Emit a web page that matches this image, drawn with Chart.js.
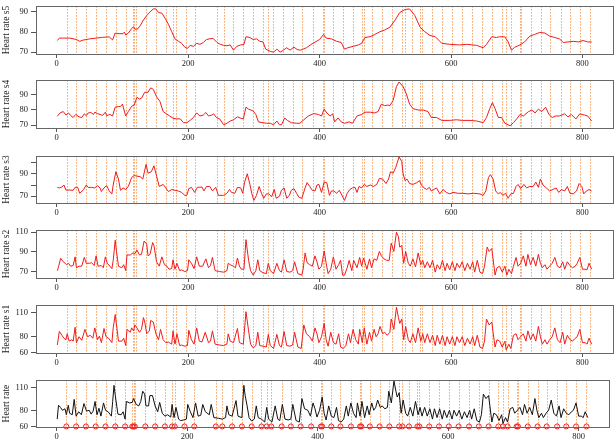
<!DOCTYPE html>
<html>
<head>
<meta charset="utf-8">
<script src="https://cdn.jsdelivr.net/npm/chart.js@4"></script>
<style>
  html, body { margin: 0; padding: 0; background: #fff; overflow: hidden; }
  #wrap { position: relative; width: 614px; height: 443px; }
  canvas { position: absolute; left: 0; }
</style>
</head>
<body>
<div id="wrap"></div>
<script>
// event times (vertical dotted lines + red circles)
const events = [15, 30, 45, 60, 75, 90, 105, 116, 118, 120, 136, 151, 166, 177, 181, 196, 211, 244, 254, 269,
    284, 299, 314, 322, 329, 345, 359, 374, 390, 405, 407, 421, 435, 451, 465, 467, 480, 495, 510, 525, 530,
    540, 553, 556, 571, 586, 601, 616, 632, 647, 662, 677, 684, 691, 705, 707, 722, 737, 751, 767, 781, 796, 812];

const xTicks = [0, 200, 400, 600, 800];

// [time, heart rate] pairs
const s5 = [[1,75.8],[4,77],[10,77],[20,77],[30,76.3],[35,75.4],[40,76],[50,76.6],[60,77],[70,77.4],[80,77.6],[85,76.1],
    [89,79.5],[95,79.2],[101,79.2],[103,80],[105,78.5],[109,79.5],[114,81.7],[117,82.7],[119,81.4],[123,81.5],[127,83.1],
    [132,86],[137,88.2],[142,90],[147,91.5],[151,91.5],[155,89.7],[160,89.4],[165,86.8],[170,83.9],[175,80.2],[180,76.6],
    [185,75.5],[190,74.4],[195,72.5],[199,71.9],[203,73.4],[208,72.9],[213,74.4],[218,73.9],[223,74.8],[228,76.3],[232,76.6],
    [238,76.9],[244,74.8],[249,73.9],[254,73.4],[259,73.2],[264,73.6],[269,71],[274,72.9],[280,73.6],[285,73.9],[288,77.7],
    [294,77.3],[299,76.3],[304,76.6],[309,75.4],[314,75.1],[318,71.5],[325,70.4],[330,70],[335,71.5],[340,70],[345,71],
    [350,72.2],[355,71],[361,72.5],[366,71.3],[371,71],[375,71.5],[380,72.2],[386,73.6],[390,74.4],[400,76.3],[406,78.8],
    [410,77],[418,76.6],[426,75.4],[433,74.8],[438,71.5],[443,72.2],[451,72.9],[459,73.6],[464,74.4],[469,77.3],[477,77.7],
    [484,78.8],[492,80.2],[499,81],[507,82.4],[515,86],[522,89.7],[530,91.2],[537,91.5],[545,88.2],[553,82.4],[560,80.2],
    [568,78.3],[576,77.7],[583,75.4],[586,74.4],[598,73.9],[613,73.6],[624,73.9],[639,73.4],[649,72.2],[654,73.9],[662,77.7],
    [669,77.3],[674,77.7],[682,77.6],[687,75.1],[692,71],[697,72.5],[705,73.6],[712,75.1],[720,78],[727,78.8],[735,79.8],
    [743,79.5],[750,78],[758,77.3],[765,76.6],[771,74.8],[778,75.1],[786,75.4],[794,75.1],[801,75.8],[808,75.1],[814,75.1]];

const s4 = [[1,75.8],[5,78],[10,78.9],[14,76.6],[18,78],[21,76.4],[25,75],[29,77],[34,75.4],[38,75],[42,77.4],[45,76.2],
    [48,78],[52,78.3],[56,77],[58,78.5],[62,77.6],[66,77],[70,76.4],[74,78.5],[76,76.2],[81,77],[85,76],[89,81.8],[94,82.2],
    [97,82.2],[100,83.8],[105,76],[109,78.9],[114,82.4],[118,83.2],[122,88.3],[126,87.1],[129,87.7],[134,91.6],[139,91.6],
    [143,94.5],[147,93.5],[152,88.6],[157,85.7],[162,78.9],[167,77.4],[172,76],[177,74.5],[182,74.1],[188,74.1],[193,71.6],
    [198,71.6],[203,73.1],[208,75],[213,78],[218,76],[223,76.6],[227,78.3],[231,76],[236,76.6],[239,77.4],[243,75],[248,74.1],
    [254,70.2],[259,71.2],[264,72.7],[269,73.5],[275,75.4],[279,74.7],[284,74.1],[288,81.8],[292,80.5],[299,79.3],[303,77],
    [307,72.1],[314,71.6],[319,71.2],[325,71.2],[330,70.2],[335,72.7],[339,70.2],[342,70.2],[347,74.7],[351,73.1],[357,71.6],
    [365,71.2],[370,71.2],[375,73.1],[383,76],[391,77.6],[398,77],[403,76],[407,80.5],[411,78],[416,76],[420,77.4],[423,72.1],
    [428,74.7],[433,72.1],[438,71.2],[445,72.1],[450,71.2],[457,76],[464,77],[469,78.5],[477,78.5],[484,78],[489,78.9],
    [494,83.8],[499,82.8],[504,83.2],[507,82.8],[512,86.3],[517,95.4],[521,98.3],[527,95.4],[532,90.6],[537,83.8],[542,80.9],
    [550,79.9],[558,79.9],[565,78.9],[570,75],[578,75],[586,73.1],[598,73.1],[608,73.5],[618,73.1],[629,73.1],[639,72.7],
    [649,71.6],[654,75],[659,80.9],[663,84.8],[667,80.9],[672,75],[677,75],[682,71.2],[690,69.6],[695,71.6],[700,74.1],
    [705,77],[710,76],[718,78.9],[723,79.9],[728,78],[733,80.5],[738,78.9],[744,81.8],[749,77],[754,75],[759,76],[765,76],
    [773,77.4],[778,75.4],[783,77],[790,74.1],[796,77.4],[803,76.6],[808,76],[814,72.7]];

const s3 = [[1,77.9],[4,77.4],[8,78.2],[11,80],[14,75.5],[20,75.5],[25,75.3],[28,77.9],[32,77.9],[35,72.6],[41,76],[45,80],
    [48,77.9],[53,77.9],[58,77.4],[62,79.5],[66,77.4],[68,74.2],[72,77.4],[76,79.5],[80,74.7],[84,72.1],[86,80],[90,91.8],
    [94,85.3],[97,75.3],[101,77.4],[105,76],[109,78.7],[114,86.6],[118,88.4],[122,87.9],[127,87.4],[131,85.3],[136,98.4],
    [139,90.5],[144,91.8],[148,97.1],[152,87.9],[156,78.7],[162,80.5],[166,77.4],[170,74.2],[175,76],[180,75.3],[185,74.7],
    [190,73.4],[195,70.8],[198,70.8],[201,76.8],[205,77.9],[210,73.4],[214,77.9],[221,78.2],[224,74.7],[228,78.7],[233,78.7],
    [237,74.7],[242,77.9],[246,70.8],[254,70.8],[259,72.6],[263,76],[266,73.4],[271,72.6],[275,77.9],[280,77.4],[283,72.6],
    [286,82.6],[290,90],[294,80.5],[297,72.1],[300,66.3],[304,70.8],[308,78.7],[312,72.1],[315,68.2],[319,72.1],[323,72.1],
    [327,69.5],[331,76],[334,68.2],[339,70],[342,75.3],[346,77.4],[350,68.2],[354,70.8],[357,75.3],[361,76.8],[365,72.6],
    [369,68.9],[373,68.2],[378,77.4],[381,82.1],[385,78.7],[389,75.3],[393,74.7],[396,80],[399,80.5],[403,73.4],[407,82.6],
    [411,82.1],[415,70.8],[418,74.7],[422,74.7],[426,72.6],[430,75.3],[433,72.1],[438,66.3],[442,72.6],[446,76],[450,77.4],
    [454,77.9],[457,73.4],[460,78.7],[464,77.4],[468,80.5],[472,78.7],[477,80],[482,78.7],[487,80.5],[491,85.8],[496,85.3],
    [501,81.3],[505,85.3],[508,91.8],[512,90.5],[516,95.8],[521,105],[525,101],[527,90.5],[530,83.9],[533,85.3],[537,81.3],
    [542,80.5],[548,82.1],[552,83.9],[555,80],[559,77.4],[563,76],[567,77.9],[570,74.7],[578,77.4],[583,72.1],[588,76],
    [593,73.4],[598,72.1],[603,73.4],[611,72.6],[618,72.6],[626,72.1],[634,72.6],[644,72.1],[649,70.8],[653,74.7],[657,86.6],
    [660,89.2],[664,85.3],[668,74.7],[672,72.1],[675,73.4],[679,70.8],[683,72.6],[687,68.2],[691,72.1],[695,72.6],[699,78.7],
    [702,80.5],[706,76.8],[711,80.5],[715,77.4],[720,78.7],[725,78.7],[729,82.6],[733,77.9],[736,85.3],[740,80],[745,77.4],
    [750,74.7],[755,76],[760,77.4],[764,73.4],[768,76],[773,74.7],[777,78.7],[781,72.6],[786,72.1],[791,74.7],[795,81.3],
    [799,78.7],[802,72.1],[806,74.7],[810,76],[814,74.7]];

const s2 = [[1,70.6],[3,75.2],[6,83.3],[10,79.7],[13,78.2],[15,76.7],[18,78.2],[21,75.2],[25,75.8],[28,84.8],[30,73.6],
    [34,75.2],[38,75.2],[42,84.2],[45,78.2],[50,78.2],[53,78.8],[57,75.8],[60,85.8],[63,75.2],[68,75.8],[71,73.6],[74,84.8],
    [77,78.2],[81,75.2],[84,72.7],[86,81.2],[89,101.8],[91,90.3],[94,75.2],[99,73.6],[102,76.7],[105,70.6],[107,86.7],
    [112,86.7],[116,88.8],[119,87.9],[122,91.8],[126,86.7],[129,87.3],[133,100.9],[137,97.9],[139,85.8],[142,87.3],[146,99.4],
    [148,96.4],[152,79.7],[156,75.2],[160,84.8],[164,76.7],[167,75.8],[171,72.1],[175,72.7],[177,81.8],[180,72.1],[183,78.2],
    [187,70.6],[190,71.5],[195,69.7],[199,70.6],[201,81.8],[205,78.2],[209,72.7],[213,84.8],[217,75.2],[222,75.2],[227,82.7],
    [231,73.6],[234,75.8],[237,84.2],[241,70.6],[248,69.7],[254,69.1],[259,70.6],[261,78.2],[264,76.7],[269,75.2],[272,73.6],
    [275,83.6],[278,75.2],[281,72.1],[285,72.1],[288,102.4],[292,81.2],[295,70.6],[299,66.1],[303,70.6],[306,81.8],[309,70.6],
    [314,68.5],[319,67.6],[322,78.2],[325,70.6],[330,67.6],[335,78.2],[339,70.6],[342,69.1],[346,81.8],[350,69.7],[355,69.1],
    [359,70.6],[362,79.7],[367,67.6],[373,66.1],[375,72.1],[378,88.8],[381,78.8],[385,76.7],[389,75.2],[393,85.8],[396,79.7],
    [399,72.1],[403,75.2],[407,90.9],[410,78.2],[413,67.6],[417,72.1],[421,84.8],[425,72.1],[429,76.7],[432,81.2],[435,66.1],
    [438,66.1],[442,73.6],[445,81.2],[449,70.6],[452,81.2],[457,73.6],[461,84.2],[464,75.2],[467,83.6],[472,72.1],[476,82.7],
    [479,73.6],[483,82.7],[487,81.2],[491,90.3],[494,85.8],[498,82.7],[502,81.2],[506,81.2],[509,98.8],[513,90.3],[517,110],
    [520,105.5],[522,94.8],[525,96.4],[528,78.2],[531,90.3],[535,78.2],[538,75.2],[542,82.7],[546,74.5],[550,88.8],[554,76.7],
    [557,81.2],[560,73.6],[564,79.7],[568,73.6],[572,81.2],[576,69.1],[579,76.7],[583,72.1],[587,81.2],[591,70.6],[594,78.2],
    [598,71.5],[602,79.7],[606,70.6],[609,78.2],[613,73.6],[617,79.7],[621,70.6],[625,78.2],[629,72.1],[633,79.7],[636,69.1],
    [640,81.2],[644,69.1],[648,67.6],[651,75.2],[655,94.8],[658,90.3],[662,93.3],[664,82.7],[667,66.1],[670,73.6],[674,75.2],
    [678,69.1],[682,75.2],[685,66.1],[688,72.1],[692,67.6],[695,75.2],[699,84.2],[702,75.2],[706,78.2],[710,85.8],[714,75.2],
    [717,87.3],[721,76.7],[725,84.2],[729,75.2],[733,87.3],[736,78.2],[739,73.6],[743,76.7],[746,72.1],[750,75.2],[754,78.2],
    [758,84.2],[762,75.2],[766,73.6],[770,79.7],[773,72.1],[777,79.7],[781,75.8],[785,73.6],[789,75.2],[792,78.2],[796,84.2],
    [800,72.1],[804,72.1],[807,71.5],[810,78.2],[814,72.1]];

const s1 = [[1,69.3],[4,86.5],[8,81.6],[11,77.9],[14,76],[16,83.5],[19,74.2],[23,76],[25,74.2],[28,91.7],[30,72.3],[34,79.8],
    [38,75.3],[41,83.5],[43,89.1],[47,79.8],[51,81.6],[55,77.9],[58,91],[62,76],[65,80.5],[68,72.3],[72,90.2],[75,79.8],
    [79,77.9],[84,72.3],[86,91],[89,107.8],[91,94.7],[94,74.2],[99,74.2],[102,77.9],[105,68.6],[107,89.1],[112,85.4],[114,91],
    [117,87.2],[119,94.7],[122,91],[126,85.4],[129,89.1],[132,104],[134,98.4],[137,83.5],[141,87.2],[143,100.3],[147,98.4],
    [151,83.5],[155,76],[158,89.1],[162,76],[166,72.3],[170,73.1],[175,70.4],[177,87.2],[180,70.4],[183,83.5],[187,68.6],
    [190,69.3],[195,67.8],[199,68.6],[201,88],[205,76],[209,70.4],[213,91],[217,74.2],[221,73.1],[226,85.4],[231,72.3],
    [234,74.2],[237,87.2],[241,70.4],[248,69.3],[254,68.6],[259,70.4],[261,83.5],[264,74.2],[269,72.3],[275,90.2],[278,72.3],
    [284,70.4],[288,111.5],[292,87.2],[295,70.4],[299,65.6],[303,68.6],[306,85.4],[309,68.6],[314,67.8],[319,66.7],[322,82.8],
    [325,68.6],[330,64.9],[335,82.8],[339,68.6],[342,66.7],[346,86.5],[350,68.6],[355,67.8],[359,69.3],[362,85.4],[367,66.7],
    [372,64.9],[374,79.8],[376,94.7],[380,83.5],[385,79.8],[389,74.2],[393,91],[396,83.5],[399,72.3],[403,79.8],[407,96.6],
    [410,76],[413,67.8],[417,85.4],[421,72.3],[425,70.4],[429,83.5],[432,66.7],[436,64.9],[440,68.6],[444,83.5],[447,72.3],
    [451,89.1],[455,76],[459,70.4],[461,89.1],[465,72.3],[468,91],[472,70.4],[476,85.4],[479,74.2],[483,89.1],[486,79.8],
    [489,83.5],[492,92.8],[496,83.5],[499,85.4],[503,81.6],[507,85.4],[509,102.2],[513,89.1],[517,117.1],[520,104],[522,96.6],
    [525,102.2],[528,76],[531,92.8],[535,76],[538,72.3],[542,83.5],[546,72.3],[550,91],[554,74.2],[557,83.5],[560,72.3],
    [564,83.5],[568,72.3],[572,81.6],[576,68.6],[579,81.6],[583,70.4],[587,81.6],[591,68.6],[594,79.8],[598,70.4],[602,79.8],
    [606,68.6],[609,79.8],[613,72.3],[617,79.8],[621,68.6],[625,77.9],[629,70.4],[633,79.8],[636,68.6],[640,81.6],[644,66.7],
    [648,64.9],[651,74.2],[654,102.2],[658,94.7],[662,98.4],[664,85.4],[667,66.7],[670,76],[674,74.2],[678,66.7],[682,74.2],
    [684,63],[688,70.4],[691,64.9],[695,81.6],[699,83.5],[702,76],[706,79.8],[710,83.5],[714,74.2],[717,87.2],[721,76],
    [725,83.5],[729,74.2],[733,92.8],[736,79.8],[739,70.4],[743,76],[746,70.4],[750,76],[754,79.8],[758,91],[762,76],
    [766,72.3],[770,85.4],[773,70.4],[777,81.6],[781,76],[785,74.2],[789,77.9],[792,79.8],[796,89.1],[800,72.3],[804,72.3],
    [807,70.4],[810,77.9],[814,70.4]];

const hr = [[1,69.4],[3,87.1],[6,84.4],[9,80.7],[13,82.6],[15,75],[18,87.1],[20,76.9],[24,75],[27,94.6],[30,73.2],[34,78.8],
    [38,75],[42,89.3],[46,79.5],[50,80.7],[53,75.8],[56,79.5],[59,92],[62,75],[65,83.3],[68,73.2],[72,90.1],[75,80.7],
    [79,78.8],[84,73.2],[86,92],[88,112.6],[90,99.5],[94,75.8],[99,75],[102,78.8],[105,69.4],[107,92],[112,90.1],[116,90.8],
    [118,95.7],[122,88.2],[126,86.3],[129,92],[132,105.1],[135,101.4],[137,86.3],[141,86.3],[143,99.5],[147,99.5],[151,86.3],
    [155,78.8],[158,90.8],[162,76.9],[166,73.2],[170,75],[175,72],[177,88.2],[180,71.3],[183,84.4],[187,69.4],[190,67.5],
    [195,68.3],[199,69.4],[201,88.2],[205,78.8],[209,71.3],[213,90.1],[217,73.2],[221,74.3],[224,88.2],[228,78.8],[234,75],
    [237,88.2],[241,71.3],[248,70.5],[254,69.4],[259,71.3],[261,86.3],[264,75],[269,73.2],[275,93.1],[278,73.2],[284,71.3],
    [287,112.6],[289,99.5],[292,86.3],[295,71.3],[299,66.8],[303,69.4],[306,86.3],[309,71.3],[314,69.4],[319,65.6],[322,84.4],
    [325,69.4],[330,65.6],[335,86.3],[339,69.4],[342,67.5],[346,88.2],[350,69.4],[355,68.3],[359,69.4],[362,88.2],[367,67.5],
    [372,65.6],[374,80.7],[376,95.7],[380,82.6],[385,80.7],[389,73.2],[393,90.1],[396,82.6],[399,72],[403,80.7],[407,97.6],
    [410,76.9],[413,68.3],[417,86.3],[421,73.2],[425,71.3],[429,84.4],[432,67.5],[436,65.6],[440,69.4],[444,86.3],[447,73.2],
    [451,90.1],[455,76.9],[459,71.3],[461,90.1],[465,73.2],[468,92],[472,71.3],[476,86.3],[479,75],[483,90.1],[486,80.7],
    [489,84.4],[492,93.8],[496,84.4],[499,86.3],[503,82.6],[507,84.4],[509,105.1],[513,90.1],[517,118.3],[520,105.1],[522,97.6],
    [525,103.2],[528,76.9],[531,93.8],[535,76.9],[538,73.2],[542,84.4],[546,73.2],[550,92],[554,75],[557,84.4],[560,73.2],
    [564,84.4],[568,73.2],[572,82.6],[576,69.4],[579,82.6],[583,71.3],[587,82.6],[591,69.4],[594,80.7],[598,71.3],[602,80.7],
    [606,69.4],[609,80.7],[613,73.2],[617,80.7],[621,69.4],[625,78.8],[629,71.3],[633,80.7],[636,69.4],[640,82.6],[644,67.5],
    [648,65.6],[651,75],[654,101.4],[658,95.7],[662,99.5],[664,86.3],[667,65.6],[670,76.9],[674,75],[678,67.5],[682,75],
    [684,63.8],[688,71.3],[691,65.6],[695,82.6],[699,84.4],[702,76.9],[706,80.7],[710,84.4],[714,75],[717,88.2],[721,76.9],
    [725,84.4],[729,75],[733,95.7],[736,80.7],[739,71.3],[743,76.9],[746,71.3],[750,76.9],[754,80.7],[758,93.8],[762,76.9],
    [766,73.2],[770,86.3],[773,71.3],[777,82.6],[781,76.9],[785,75],[789,78.8],[792,80.7],[796,90.1],[800,73.2],[804,73.2],
    [807,71.3],[810,78.8],[814,71.3]];

// panel setup: y tick values and which of them get a label
const panels = [
    { data: s5, title: "Heart rate s5", ticks: [70, 80, 90], labels: [70, 80, 90], min: 69.1, max: 92.9, top: 0, h: 54 },
    { data: s4, title: "Heart rate s4", ticks: [70, 80, 90], labels: [70, 80, 90], min: 68.1, max: 99.6, top: 74, h: 54 },
    { data: s3, title: "Heart rate s3", ticks: [70, 80, 90, 100], labels: [70, 90], min: 64, max: 105.7, top: 150, h: 53 },
    { data: s2, title: "Heart rate s2", ticks: [70, 80, 90, 100, 110], labels: [70, 90, 110], min: 63.1, max: 112.2, top: 224, h: 54 },
    { data: s1, title: "Heart rate s1", ticks: [60, 80, 110], labels: [60, 80, 110], min: 59.2, max: 119.8, top: 299, h: 54 },
    { data: hr, title: "Heart rate", ticks: [60, 80, 110], labels: [60, 80, 110], min: 59.3, max: 119.3, top: 374, h: 53, black: true }
];

const SERIF = "'Liberation Serif', 'DejaVu Serif', serif";
const PAD_TOP = 2, AXIS_H = 20;

const framePlugin = {
    id: "frame",
    beforeDatasetsDraw(chart) {
        const { ctx, chartArea: a, scales } = chart;
        ctx.save();
        ctx.strokeStyle = "rgba(250,140,60,0.8)";
        ctx.lineWidth = 1;
        ctx.setLineDash([1.5, 1.5]);
        events.forEach(e => {
            const x = Math.round(scales.x.getPixelForValue(e)) + 0.5;
            ctx.beginPath();
            ctx.moveTo(x, a.top);
            ctx.lineTo(x, a.bottom);
            ctx.stroke();
        });
        ctx.restore();
    },
    afterDraw(chart) {
        const { ctx, chartArea: a } = chart;
        ctx.save();
        ctx.strokeStyle = "#666";
        ctx.lineWidth = 1;
        ctx.strokeRect(Math.round(a.left) + 0.5, Math.round(a.top) + 0.5,
            Math.round(a.right - a.left), Math.round(a.bottom - a.top));
        ctx.restore();
    }
};

function drawPanel(p) {
    const canvas = document.createElement("canvas");
    const height = PAD_TOP + p.h + AXIS_H;
    canvas.width = 614;
    canvas.height = height;
    canvas.style.top = (p.top - PAD_TOP) + "px";
    document.getElementById("wrap").appendChild(canvas);

    const datasets = [{
        data: p.data.map(d => ({ x: d[0], y: d[1] })),
        borderColor: p.black ? "#111" : "#ee1c1c",
        borderWidth: 1,
        pointRadius: 0,
        tension: 0
    }];
    if (p.black) {
        datasets.push({
            type: "scatter",
            data: events.map(e => ({ x: e, y: 60 })),
            borderColor: "#ee1c1c",
            backgroundColor: "rgba(0,0,0,0)",
            borderWidth: 1,
            pointRadius: 2.5,
            clip: false
        });
    }

    new Chart(canvas.getContext("2d"), {
        type: "line",
        data: { datasets },
        options: {
            responsive: false,
            animation: false,
            devicePixelRatio: 1,
            layout: { padding: { top: PAD_TOP, right: 1, left: 0, bottom: 0 } },
            plugins: { legend: { display: false }, tooltip: { enabled: false } },
            scales: {
                x: {
                    type: "linear",
                    min: -31.5,
                    max: 846.5,
                    afterBuildTicks: s => { s.ticks = xTicks.map(v => ({ value: v })); },
                    afterFit: s => { s.height = AXIS_H; },
                    grid: { drawOnChartArea: false, tickLength: 4, tickColor: "#555" },
                    border: { display: false },
                    ticks: { color: "#222", font: { family: SERIF, size: 8.5 }, padding: 1, maxRotation: 0 }
                },
                y: {
                    min: p.min,
                    max: p.max,
                    afterBuildTicks: s => { s.ticks = p.ticks.map(v => ({ value: v })); },
                    afterFit: s => { s.width = 36; },
                    grid: { drawOnChartArea: false, tickLength: 5, tickColor: "#555" },
                    border: { display: false },
                    ticks: {
                        color: "#222",
                        font: { family: SERIF, size: 8.5 },
                        padding: 3,
                        callback: v => p.labels.includes(v) ? String(v) : ""
                    },
                    title: {
                        display: true,
                        text: p.title,
                        color: "#222",
                        font: { family: SERIF, size: 9.5 },
                        padding: { top: 1, bottom: 0 }
                    }
                }
            }
        },
        plugins: [framePlugin]
    });
}

panels.forEach(drawPanel);
</script>
</body>
</html>
